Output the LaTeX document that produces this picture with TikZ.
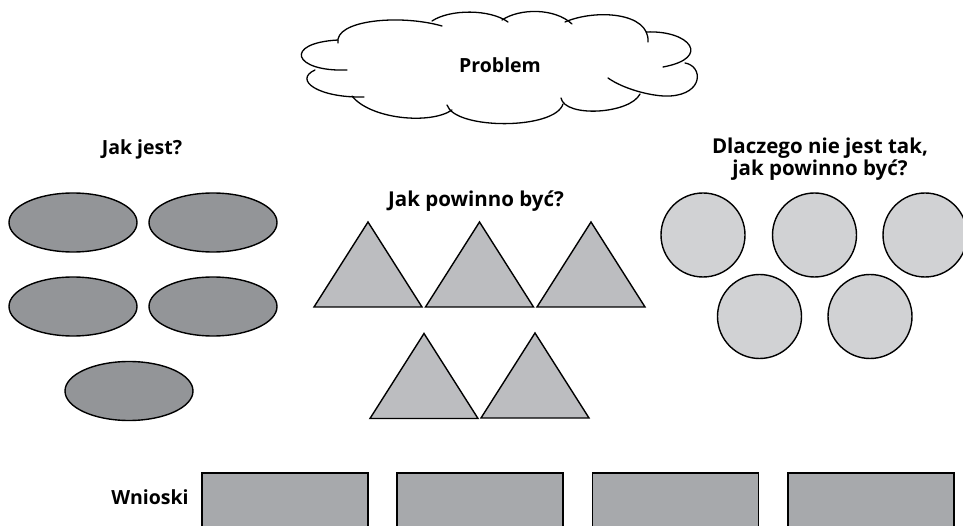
\documentclass[tikz,border=0pt]{standalone}
\usepackage{fontspec}
\setmainfont{Open Sans}
\usetikzlibrary{shapes.geometric}

\definecolor{ellgray}{HTML}{939598}
\definecolor{trigray}{HTML}{BCBDC0}
\definecolor{circgray}{HTML}{D1D2D4}
\definecolor{rectgray}{HTML}{A7A9AC}

\tikzset{
  outline/.style={draw=black, line width=1.4pt},
  lobe/.style={draw=black, line width=1.3pt, line cap=round},
  labelfont/.style={font=\bfseries\fontsize{19.5}{16.5}\selectfont, align=center},
  widelabel/.style={labelfont, font=\bfseries\fontsize{20.5}{16.5}\selectfont},
  oval/.style={outline, ellipse, fill=ellgray, minimum width=128pt, minimum height=59pt, inner sep=0pt},
  disc/.style={outline, circle, fill=circgray, minimum size=84pt, inner sep=0pt},
  slab/.style={outline, rectangle, fill=rectgray, minimum width=166pt, minimum height=70pt, inner sep=0pt},
  trishape/.style={outline, fill=trigray, line join=miter},
  tri/.pic={\path[trishape] (-54,42.5) -- (0,-42.5) -- (54,42.5) -- cycle;}
}

\begin{document}
\begin{tikzpicture}[x=1pt, y=-1pt]
\useasboundingbox (0,0) rectangle (963,526);

% problem cloud: each puff overshoots its neighbour with a small curl
\draw[lobe] (338,43) .. controls (334,20) and (400,14) .. (442,26);
\draw[lobe] (432,21) .. controls (450,9) and (490,9) .. (508,22);
\draw[lobe] (502,20) .. controls (520,8) and (555,8) .. (572,24);
\draw[lobe] (565,22) .. controls (595,9) and (650,12) .. (648,42);
\draw[lobe] (646,32) .. controls (690,30) and (712,58) .. (663,67);
\draw[lobe] (685,63) .. controls (703,66) and (704,94) .. (670,96)
                    .. controls (655,97) and (625,90) .. (608,78);
\draw[lobe] (640,94) .. controls (630,114) and (565,118) .. (561,98);
\draw[lobe] (563,104) .. controls (555,130) and (455,130) .. (447,105);
\draw[lobe] (452,110) .. controls (430,125) and (370,119) .. (352,96);
\draw[lobe] (364,97) .. controls (318,98) and (293,80) .. (315,70);
\draw[lobe] (347,70) .. controls (293,72) and (283,43) .. (338,40);
\node[labelfont] (problem) at (500,65) {Problem};

% "how it is" column
\node[labelfont] (isT) at (142,149) {Jak jest?};
\node[oval] (is1) at (73,222.5) {};
\node[oval] (is2) at (213,222.5) {};
\node[oval] (is3) at (73,306.5) {};
\node[oval] (is4) at (213,306.5) {};
\node[oval] (is5) at (129,391) {};

% "how it should be" column
\node[widelabel] (shouldT) at (476,201) {Jak powinno być?};
\path (368,264.5) pic {tri};
\path (479.5,264.5) pic {tri};
\path (591,264.5) pic {tri};
\path (424,376) pic {tri};
\path (535,375.5) pic {tri};

% "why not" column
\node[widelabel] (whyT) at (820,159) {Dlaczego nie jest tak,\\jak powinno być?};
\node[disc] (why1) at (703,235) {};
\node[disc] (why2) at (814.5,235) {};
\node[disc] (why3) at (925,235) {};
\node[disc] (why4) at (759.5,316.5) {};
\node[disc] (why5) at (870,316.5) {};

% conclusions row
\node[labelfont] (conclT) at (150,497) {Wnioski};
\node[slab] (concl1) at (285,508) {};
\node[slab] (concl2) at (480,508) {};
\node[slab] (concl3) at (675.5,508) {};
\node[slab] (concl4) at (871,508) {};
\end{tikzpicture}
\end{document}
